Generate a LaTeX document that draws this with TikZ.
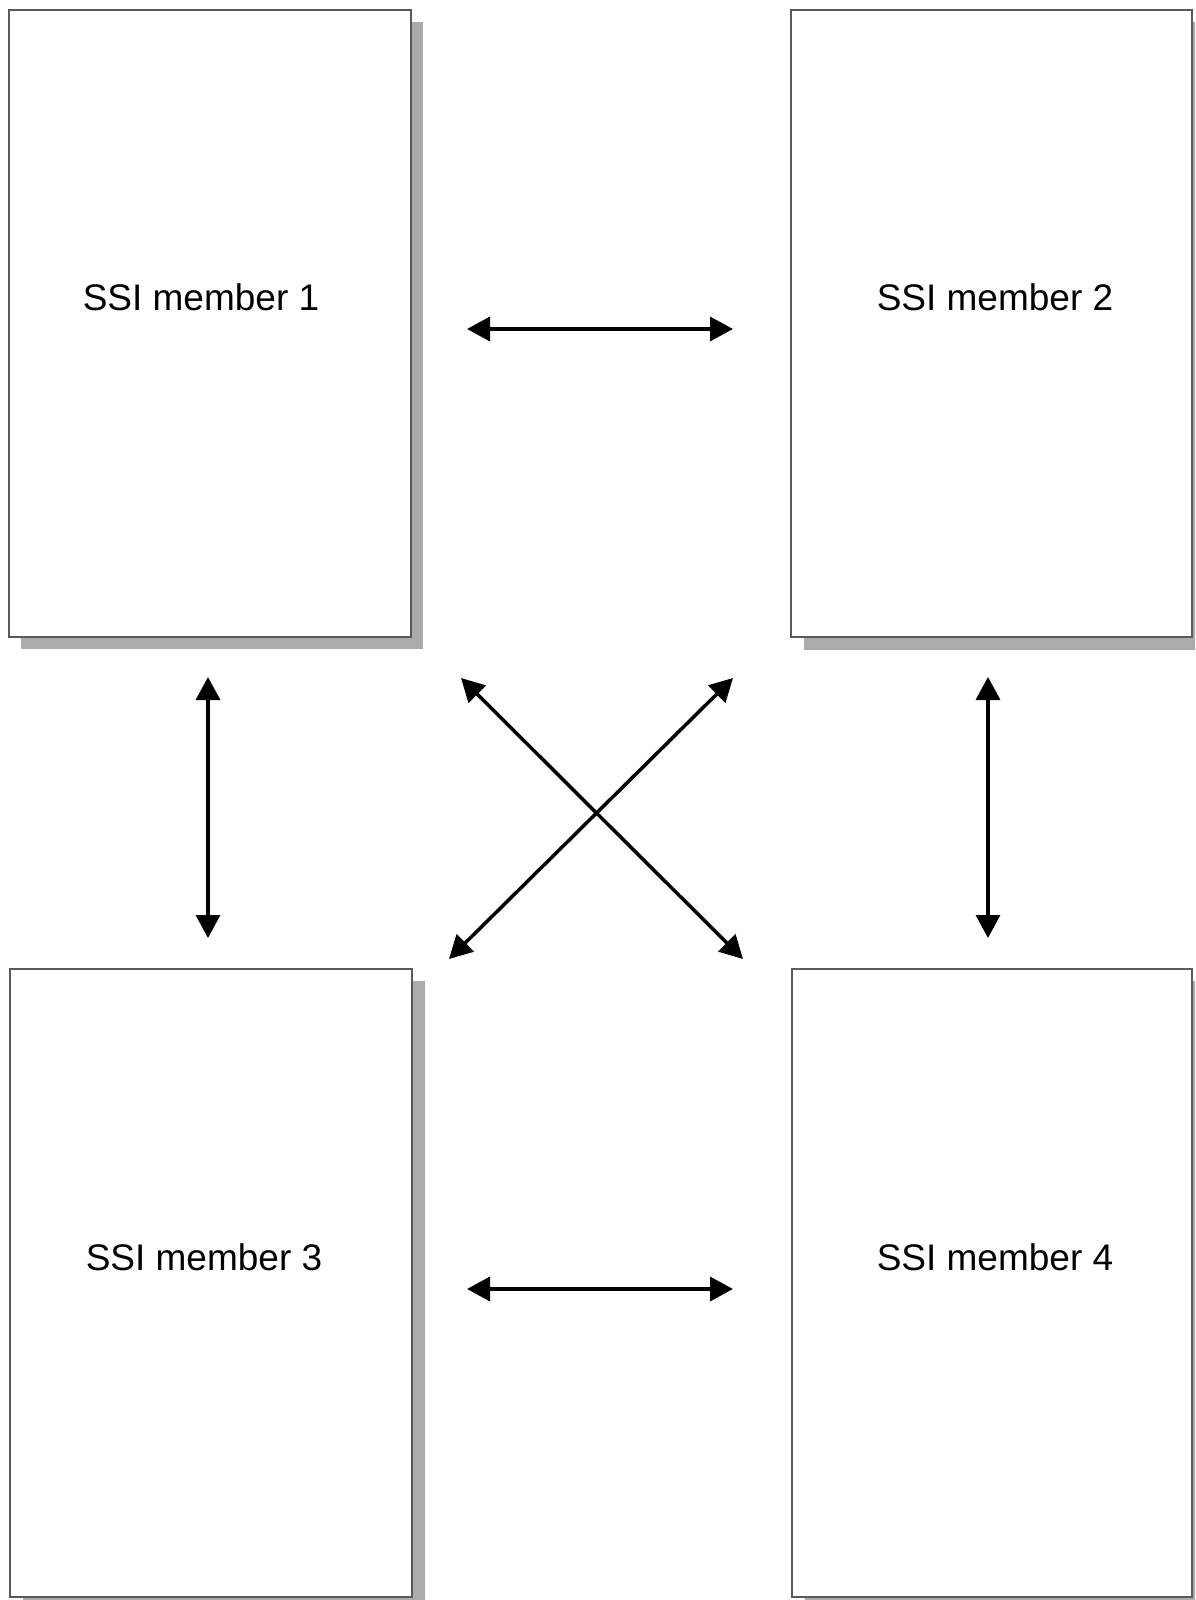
\documentclass[tikz,border=0pt]{standalone}
\usepackage{fontspec}
\setmainfont{Liberation Sans}
\usetikzlibrary{arrows.meta}
\begin{document}
\begin{tikzpicture}[x=1pt,y=-1pt,
  member/.style={draw=black!65,line width=2pt,fill=white},
  shade/.style={fill=black!33},
  lbl/.style={font=\fontsize{37}{44}\selectfont,inner sep=0pt},
  link/.style={line width=3.5pt,{Triangle[length=23pt,width=24pt]}-{Triangle[length=23pt,width=24pt]}}]
\useasboundingbox (0,0) rectangle (1195,1600);
\clip (0,0) rectangle (1195,1600);
% shadows
\fill[shade] (21,22) rectangle (423,649);
\fill[shade] (804,22) rectangle (1205,650);
\fill[shade] (23,981) rectangle (425,1610);
\fill[shade] (805,981) rectangle (1205,1610);
% boxes
\draw[member] (9,10) rectangle (411,637);
\draw[member] (791,10) rectangle (1192,637);
\draw[member] (10,969) rectangle (412,1597);
\draw[member] (792,969) rectangle (1192,1597);
% labels
\node[lbl] (m1) at (201,297) {SSI member 1};
\node[lbl] (m2) at (995,297) {SSI member 2};
\node[lbl] (m3) at (204,1257) {SSI member 3};
\node[lbl] (m4) at (995,1257) {SSI member 4};
% arrow end points
\coordinate (a1) at (467,329); \coordinate (a2) at (733,329);
\coordinate (b1) at (467,1289); \coordinate (b2) at (733,1289);
\coordinate (c1) at (208,677); \coordinate (c2) at (208,938);
\coordinate (d1) at (988,677); \coordinate (d2) at (988,938);
\coordinate (e1) at (461,678); \coordinate (e2) at (743,959);
\coordinate (f1) at (733,678); \coordinate (f2) at (449,959);
\draw[link] (a1) -- (a2);
\draw[link] (b1) -- (b2);
\draw[link] (c1) -- (c2);
\draw[link] (d1) -- (d2);
\draw[link] (e1) -- (e2);
\draw[link] (f1) -- (f2);
\end{tikzpicture}
\end{document}
